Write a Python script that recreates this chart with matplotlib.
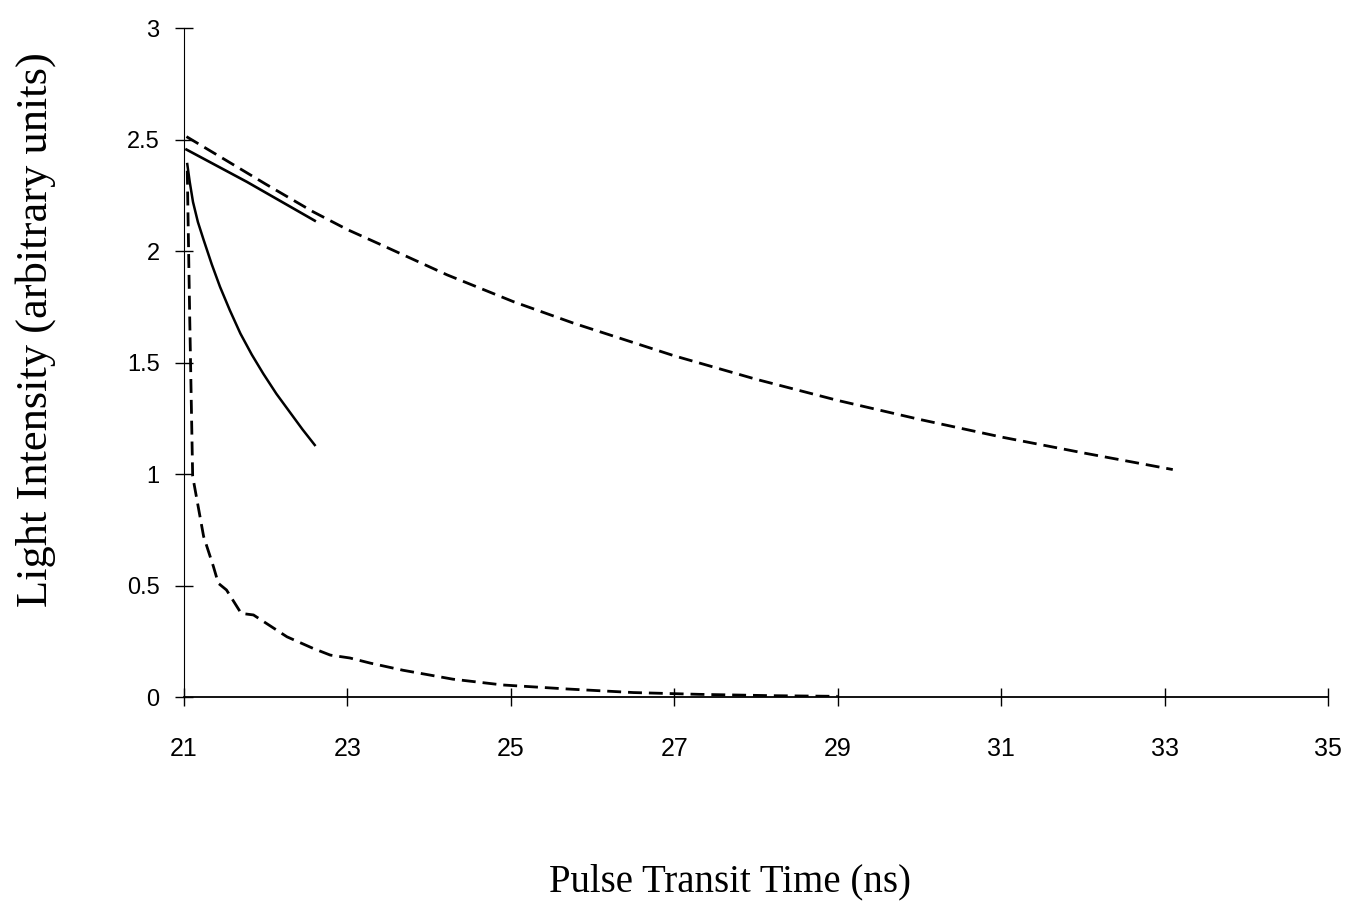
import matplotlib.pyplot as plt

# upper dashed decay (long tail)
t_long = [21.03, 21.5, 22.0, 22.58, 23.0, 23.4, 24.22, 25.03, 25.77, 27.0, 28.0, 29.0, 30.0, 31.0, 32.0, 33.1]
i_long = [2.513, 2.41, 2.30, 2.176, 2.096, 2.03, 1.893, 1.773, 1.676, 1.53, 1.425, 1.33, 1.245, 1.166, 1.095, 1.02]

# upper solid short segment
t_short = [21.03, 21.77, 22.60]
i_short = [2.455, 2.31, 2.136]

# middle solid curve
t_mid = [21.04, 21.07, 21.11, 21.17, 21.24, 21.34, 21.44, 21.56, 21.69, 21.83, 21.97, 22.13, 22.30, 22.45, 22.60]
i_mid = [2.39, 2.31, 2.22, 2.13, 2.05, 1.94, 1.84, 1.735, 1.63, 1.535, 1.45, 1.36, 1.275, 1.20, 1.13]

# lower dashed fast decay
t_fast = [21.04, 21.07, 21.106, 21.24, 21.36, 21.42, 21.52, 21.70, 21.85, 22.26, 22.58,
          22.79, 23.03, 23.28, 23.68, 24.29, 24.9, 25.69, 26.5, 27.3, 28.2, 29.0]
i_fast = [2.36, 1.7, 0.99, 0.72, 0.585, 0.51, 0.48, 0.375, 0.368, 0.27, 0.218,
          0.188, 0.175, 0.152, 0.12, 0.08, 0.054, 0.036, 0.02, 0.012, 0.006, 0.003]

xticks = [21, 23, 25, 27, 29, 31, 33, 35]
yticks = [0, 0.5, 1, 1.5, 2, 2.5, 3]
ytick_labels = ['0', '0.5', '1', '1.5', '2', '2.5', '3']

fig = plt.figure(figsize=(13.51, 9.01), dpi=100)
ax = fig.add_axes([0.1362, 0.2264, 0.8468, 0.7425])

ax.plot(t_long, i_long, color='black', lw=2.0, dashes=(5, 2.5))
ax.plot(t_short, i_short, color='black', lw=1.9)
ax.plot(t_mid, i_mid, color='black', lw=1.8)
ax.plot(t_fast, i_fast, color='black', lw=2.0, dashes=(5, 2.5))

ax.set_xlim(21, 35)
ax.set_ylim(0, 3)
ax.set_xticks(xticks)
ax.set_xticklabels([str(v) for v in xticks])
ax.set_yticks(yticks)
ax.set_yticklabels(ytick_labels)

for s in ['top', 'right']:
    ax.spines[s].set_visible(False)
ax.spines['left'].set_linewidth(0.8)
ax.spines['bottom'].set_linewidth(1.3)

ax.tick_params(axis='both', direction='inout', length=13, width=1.0, colors='black')
ax.tick_params(axis='x', pad=22, labelsize=18)
ax.tick_params(axis='y', pad=11, labelsize=17)
for lab in ax.get_xticklabels() + ax.get_yticklabels():
    lab.set_family('Liberation Sans')

ax.set_xlabel('Pulse Transit Time (ns)', family='Liberation Serif', fontsize=28, va='center')
ax.xaxis.set_label_coords(0.477, -0.2765)
ax.set_ylabel('Light Intensity (arbitrary units)', family='Liberation Serif', fontsize=32, va='center')
ax.yaxis.set_label_coords(-0.130, 0.5486)

fig.savefig('out.png', dpi=100)
